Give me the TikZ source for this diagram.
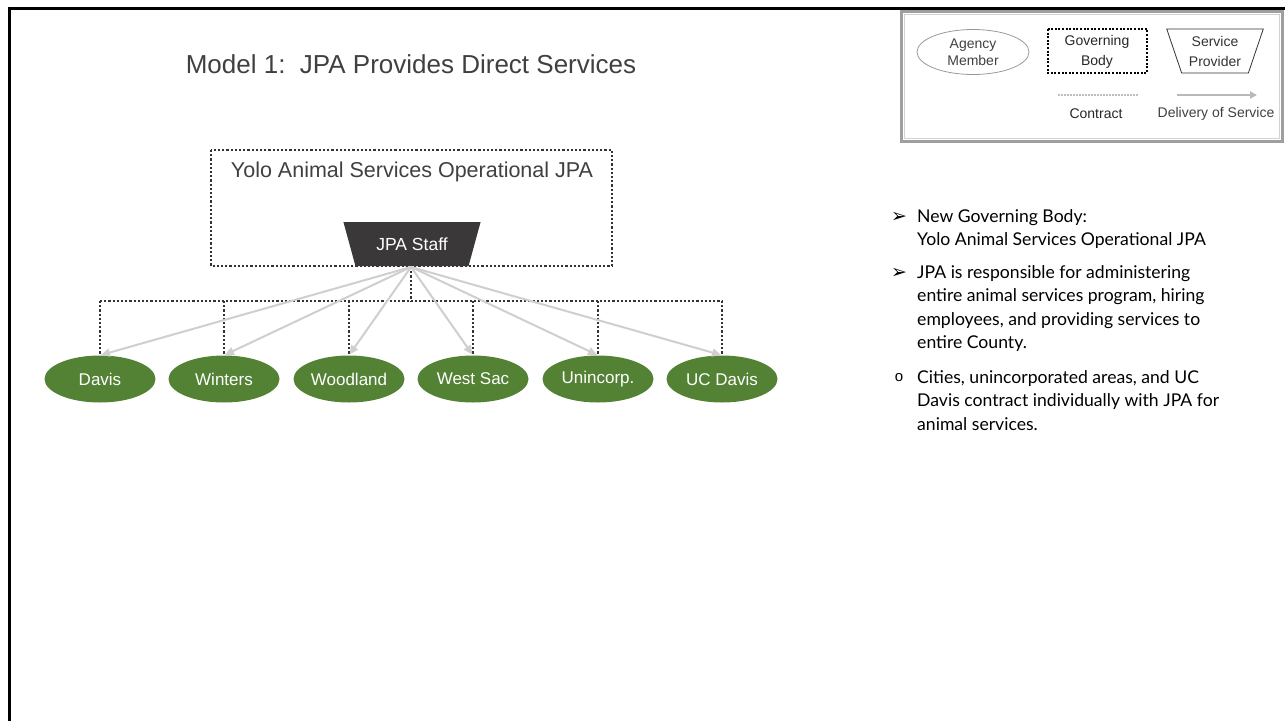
\documentclass[tikz,border=0pt]{standalone}
\usepackage{fontspec}
\setmainfont{Liberation Sans}
\newfontfamily\notefont{Lato}
\newfontfamily\symfont{DejaVu Sans}
\usetikzlibrary{shapes.geometric,arrows.meta}

\definecolor{memgreen}{RGB}{84,130,53}
\definecolor{staffgray}{RGB}{58,56,56}
\definecolor{linegray}{RGB}{208,206,206}
\definecolor{textgray}{RGB}{64,64,64}

\begin{document}
\begin{tikzpicture}
  [x=1pt,y=-1pt,every node/.style={inner sep=0pt},
   member/.style={ellipse,fill=memgreen,minimum width=111pt,minimum height=47pt,
     text=white,font=\fontsize{17}{20}\selectfont},
   contract/.style={draw=black!80,line width=2.4pt,dash pattern=on 2.2pt off 2pt},
   service/.style={draw=linegray,line width=2pt,-{Triangle[length=9pt,width=8pt]}},
   legendtext/.style={text=textgray,font=\fontsize{14}{15}\selectfont,align=center},
   notetext/.style={anchor=west,align=left,font=\notefont\fontsize{17.6}{23.5}\selectfont}]
  \useasboundingbox (0,0) rectangle (1285,721);
  \draw[line width=3pt] (9,721) -- (9,8.5) -- (1285,8.5);

  % title and governing body
  \node (title) at (411,64) [text=textgray,font=\fontsize{26}{28}\selectfont]
    {Model 1:\ \ JPA Provides Direct Services};
  \draw[contract] (211,150) rectangle (612,266);
  \node (jpa) at (412,172) [text=textgray,font=\fontsize{21.5}{24}\selectfont]
    {Yolo Animal Services Operational JPA};
  \node (staff) at (412,244) [trapezium,trapezium stretches=true,shape border rotate=180,
    trapezium angle=59.4,minimum width=138pt,minimum height=44pt,fill=staffgray,
    text=white,font=\fontsize{17.5}{20}\selectfont] {JPA Staff};
  \coordinate (hub) at (411,267);
  \coordinate (bus) at (411,301);

  % members
  \foreach \name/\x/\label in {davis/100/Davis,winters/224/Winters,woodland/349/Woodland,
      westsac/473/West Sac,unincorp/598/Unincorp.,ucdavis/722/UC Davis}
    \node[member] (\name) at (\x,379) {\label};

  \draw[contract] (hub) -- (bus);
  \draw[contract] (bus -| davis.north) -- (bus -| ucdavis.north);
  \foreach \name in {davis,winters,woodland,westsac,unincorp,ucdavis}
    \draw[contract] (bus -| \name.north) -- (\name.north);
  \foreach \name in {davis,winters,woodland,westsac,unincorp,ucdavis}
    \draw[service,shorten >=1pt] (hub) -- (\name.north);

  % legend
  \draw[draw=gray!75,line width=3pt] (901,11) rectangle (1282,141);
  \draw[draw=gray!35,line width=1pt] (904,14) rectangle (1279,138);
  \node (agency) at (973,52) [ellipse,draw=gray!80,line width=0.8pt,minimum width=112pt,
    minimum height=45pt,legendtext] {Agency\\[2pt]Member};
  \draw[draw=black,line width=2.2pt,dash pattern=on 2pt off 1.6pt] (1048,29) rectangle (1147,73);
  \node (govbody) at (1097,52) [legendtext,text=black!85] {Governing\\[5pt]Body};
  \node (provider) at (1215,51) [trapezium,trapezium stretches=true,shape border rotate=180,
    trapezium angle=69,minimum width=97pt,minimum height=44pt,draw=black!80,line width=0.8pt,
    legendtext,text=black!80] {Service\\[5pt]Provider};
  \coordinate (c1) at (1058,95);
  \coordinate (c2) at (1138,95);
  \coordinate (d1) at (1177,95);
  \coordinate (d2) at (1257,95);
  \draw[draw=gray!50,line width=1.5pt,dash pattern=on 1.5pt off 1.5pt] (c1) -- (c2);
  \draw[draw=gray!55,line width=2.5pt,-{Triangle[length=7pt,width=7pt]}] (d1) -- (d2);
  \node (contractlbl) at (1096,114) [legendtext,text=black!85] {Contract};
  \node (deliverylbl) at (1216,114) [legendtext] {Delivery of Service};

  % notes
  \node (b1) at (899,217) [font=\symfont\fontsize{19}{20}\selectfont] {➢};
  \node (b2) at (899,273) [font=\symfont\fontsize{19}{20}\selectfont] {➢};
  \node (b3) at (899,378) [font=\fontsize{15}{16}\selectfont] {o};
  \node (note1) at (917,229) [notetext]
    {New Governing Body:\\Yolo Animal Services Operational JPA};
  \node (note2) at (917,308.5) [notetext]
    {JPA is responsible for administering\\entire animal services program, hiring\\
     employees, and providing services to\\entire County.};
  \node (note3) at (917,400.5) [notetext]
    {Cities, unincorporated areas, and UC\\Davis contract individually with JPA for\\animal services.};
\end{tikzpicture}
\end{document}
